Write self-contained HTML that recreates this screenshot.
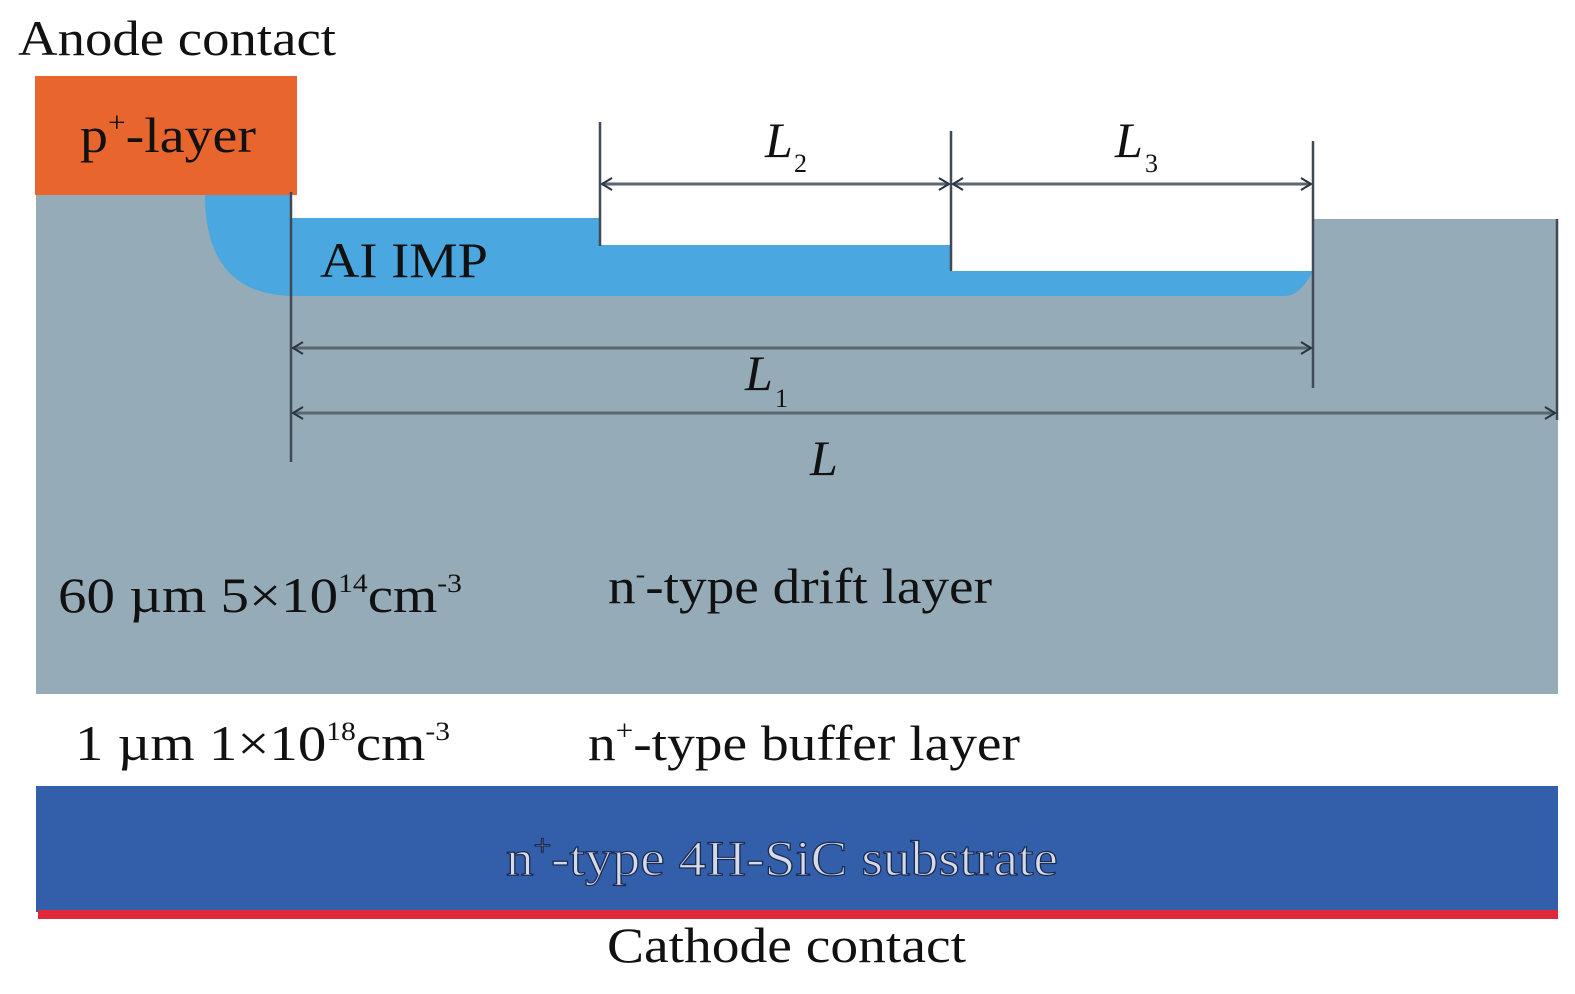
<!DOCTYPE html>
<html><head><meta charset="utf-8"><style>html,body{margin:0;padding:0;background:#fff}svg{display:block}</style></head>
<body>
<svg width="1575" height="994" viewBox="0 0 1575 994" xmlns="http://www.w3.org/2000/svg" style="font-family:'Liberation Serif',serif">
<defs>
<marker id="ar" markerWidth="14" markerHeight="14" refX="12" refY="7" orient="auto-start-reverse" markerUnits="userSpaceOnUse">
<path d="M2,1 L12,7 L2,13" fill="none" stroke="#2a3440" stroke-width="2"/>
</marker>
</defs>
<path d="M36,195 L292,195 L292,218 L600,218 L600,245 L951,245 L951,271 L1313,271 L1313,219 L1558,219 L1558,694 L36,694 Z" fill="#95abb8"/>
<path d="M205,195 L292,195 L292,218 L600,218 L600,245 L951,245 L951,271 L1313,271 Q1300,296 1285,296 L295,296 Q205,296 205,195 Z" fill="#4aa7e0"/>
<rect x="35" y="76" width="262" height="119" fill="#e8652e"/>
<rect x="36" y="786" width="1522" height="126" fill="#335eaa"/>
<rect x="38" y="910" width="1520" height="9" fill="#e0283a"/>
<g stroke="#3f4a55" stroke-width="2.5">
<line x1="291" y1="192" x2="291" y2="462"/>
<line x1="600" y1="122" x2="600" y2="246"/>
<line x1="951" y1="131" x2="951" y2="271"/>
<line x1="1313" y1="141" x2="1313" y2="388"/>
<line x1="1557" y1="219" x2="1557" y2="420"/>
</g>
<g stroke="#5b6670" stroke-width="3" fill="none">
<line x1="602" y1="184" x2="949" y2="184" marker-start="url(#ar)" marker-end="url(#ar)"/>
<line x1="953" y1="184" x2="1311" y2="184" marker-start="url(#ar)" marker-end="url(#ar)"/>
<line x1="293" y1="348" x2="1311" y2="348" marker-start="url(#ar)" marker-end="url(#ar)"/>
<line x1="293" y1="413" x2="1555" y2="413" marker-start="url(#ar)" marker-end="url(#ar)"/>
</g>
<g fill="#111" font-size="50">
<text x="18" y="55" textLength="318" lengthAdjust="spacingAndGlyphs">Anode contact</text>
<text x="80" y="152" textLength="176" lengthAdjust="spacingAndGlyphs">p<tspan font-size="28" dy="-20">+</tspan><tspan dy="20">-layer</tspan></text>
<text x="320" y="277" textLength="168" lengthAdjust="spacingAndGlyphs">AI IMP</text>
<text x="765" y="157" font-style="italic">L</text><text x="794" y="172" font-size="26">2</text>
<text x="1115" y="157" font-style="italic">L</text><text x="1145" y="172" font-size="26">3</text>
<text x="745" y="390" font-style="italic">L</text><text x="775" y="407" font-size="26">1</text>
<text x="810" y="475" font-style="italic">L</text>
<text x="58" y="612" textLength="404" lengthAdjust="spacingAndGlyphs">60 µm  5×10<tspan font-size="26" dy="-20">14</tspan><tspan dy="20">cm</tspan><tspan font-size="26" dy="-20">-3</tspan></text>
<text x="608" y="603" textLength="384" lengthAdjust="spacingAndGlyphs">n<tspan font-size="26" dy="-20">-</tspan><tspan dy="20">-type drift layer</tspan></text>
<text x="75" y="760" textLength="375" lengthAdjust="spacingAndGlyphs">1 µm  1×10<tspan font-size="26" dy="-20">18</tspan><tspan dy="20">cm</tspan><tspan font-size="26" dy="-20">-3</tspan></text>
<text x="588" y="760" textLength="432" lengthAdjust="spacingAndGlyphs">n<tspan font-size="28" dy="-20">+</tspan><tspan dy="20">-type buffer layer</tspan></text>
<text x="506" y="875" textLength="552" lengthAdjust="spacingAndGlyphs" fill="#d4dae6" stroke="#1b2a50" stroke-width="1.2">n<tspan font-size="28" dy="-20">+</tspan><tspan dy="20">-type 4H-SiC substrate</tspan></text>
<text x="607" y="962" textLength="359" lengthAdjust="spacingAndGlyphs">Cathode contact</text>
</g>
</svg>
</body></html>
